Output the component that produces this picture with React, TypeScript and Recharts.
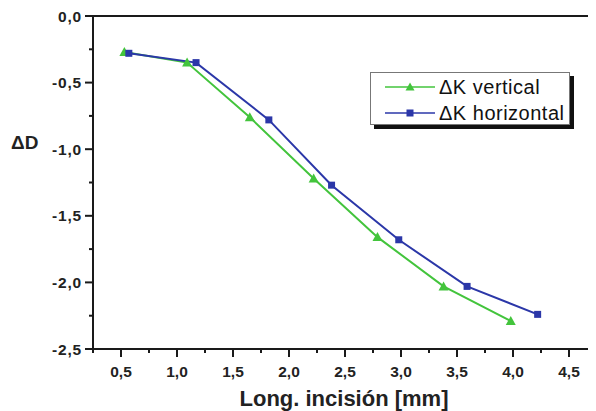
import { LineChart, Line, XAxis, YAxis, Legend } from 'recharts'

const vertX = [0.53, 1.09, 1.65, 2.22, 2.79, 3.38, 3.98]
const vertY = [-0.27, -0.35, -0.76, -1.22, -1.66, -2.03, -2.29]
const horX = [0.57, 1.17, 1.82, 2.38, 2.98, 3.59, 4.22]
const horY = [-0.28, -0.35, -0.78, -1.27, -1.68, -2.03, -2.24]

const xTicks = [0.25, 0.5, 0.75, 1, 1.25, 1.5, 1.75, 2, 2.25, 2.5, 2.75, 3, 3.25, 3.5, 3.75, 4, 4.25, 4.5, 4.75]
const yTicks = [0, -0.25, -0.5, -0.75, -1, -1.25, -1.5, -1.75, -2, -2.25, -2.5]

const vertData = vertX.map((x, i) => ({ x, y: vertY[i] }))
const horData = horX.map((x, i) => ({ x, y: horY[i] }))

const GREEN = '#43c43c'
const BLUE = '#2b37a8'
const AXIS = '#1a1a1a'
const FONT = '"Liberation Sans", Arial, sans-serif'

const isMajor = (v: number) => Math.abs(v * 2 - Math.round(v * 2)) < 1e-6
const fmt = (v: number) => v.toFixed(1).replace('.', ',')

function BottomTick({ x, y, payload }: any) {
  const major = isMajor(payload.value)
  return (
    <g>
      <line x1={x} x2={x} y1={y} y2={y + (major ? 8 : 4)} stroke={AXIS} strokeWidth={2} />
      {major && (
        <text x={x} y={y + 28} textAnchor="middle" fontFamily={FONT} fontWeight="bold" fontSize={15.5} fill="#222">
          {fmt(payload.value)}
        </text>
      )}
    </g>
  )
}

function LeftTick({ x, y, payload }: any) {
  const major = isMajor(payload.value)
  return (
    <g>
      <line x1={x - (major ? 8 : 4)} x2={x} y1={y} y2={y} stroke={AXIS} strokeWidth={2} />
      {major && (
        <text x={x - 11} y={y + 5.5} textAnchor="end" fontFamily={FONT} fontWeight="bold" fontSize={15.5} fill="#222" letterSpacing={0.8}>
          {fmt(payload.value)}
        </text>
      )}
    </g>
  )
}

function TopTick({ x, y, payload }: any) {
  const major = isMajor(payload.value)
  return <line x1={x} x2={x} y1={y} y2={y + (major ? 8 : 4)} stroke={AXIS} strokeWidth={2} />
}

function RightTick({ x, y, payload }: any) {
  const major = isMajor(payload.value)
  return <line x1={x - (major ? 8 : 4)} x2={x} y1={y} y2={y} stroke={AXIS} strokeWidth={2} />
}

function Triangle({ cx, cy }: any) {
  if (cx == null || cy == null) return null
  return <path d={`M${cx},${cy - 5} L${cx + 5},${cy + 4} L${cx - 5},${cy + 4} Z`} fill={GREEN} />
}

function Square({ cx, cy }: any) {
  if (cx == null || cy == null) return null
  return <rect x={cx - 3.5} y={cy - 3.5} width={7} height={7} fill={BLUE} />
}

function LegendBox() {
  const rows = [
    { name: 'ΔK vertical', color: GREEN, marker: 'tri' },
    { name: 'ΔK horizontal', color: BLUE, marker: 'sq' },
  ]
  return (
    <div
      style={{
        width: 198,
        height: 51,
        border: '1.5px solid #777',
        background: '#fff',
        boxShadow: '4px 4px 0 #111',
        position: 'relative',
      }}
    >
      {rows.map((r, i) => (
        <div key={r.name} style={{ position: 'absolute', left: 13, top: 3 + i * 26, height: 22, display: 'flex', alignItems: 'center' }}>
          <svg width={52} height={14}>
            <line x1={1} x2={51} y1={7} y2={7} stroke={r.color} strokeWidth={1.5} />
            {r.marker === 'tri' ? (
              <path d="M26,2.5 L30.5,10.5 L21.5,10.5 Z" fill={r.color} />
            ) : (
              <rect x={22.5} y={3.5} width={7} height={7} fill={r.color} />
            )}
          </svg>
          <span style={{ fontFamily: FONT, fontSize: 20, letterSpacing: 0.5, color: '#111', marginLeft: 3, lineHeight: '22px', whiteSpace: 'nowrap' }}>
            {r.name}
          </span>
        </div>
      ))}
    </div>
  )
}

export default function App() {
  return (
    <div style={{ margin: '-8px -8px 0 -8px', width: 596, height: 411, overflow: 'hidden', background: '#fff' }}>
      <LineChart width={618} height={411} margin={{ top: 14, right: 0, bottom: 1, left: 0 }}>
        <XAxis
          dataKey="x"
          type="number"
          domain={[0.25, 4.75]}
          ticks={xTicks}
          interval={0}
          height={61}
          tickSize={0}
          tickMargin={0}
          tickLine={false}
          tick={<BottomTick />}
          axisLine={{ stroke: AXIS, strokeWidth: 2 }}
          allowDataOverflow
          label={{
            content: ({ viewBox }: any) => (
              <text
                x={viewBox.x + viewBox.width / 2 - 1}
                y={viewBox.y + 57}
                textAnchor="middle"
                fontFamily={FONT}
                fontWeight="bold"
                fontSize={22}
                fill="#222"
              >
                Long. incisión [mm]
              </text>
            ),
          }}
        />
        <XAxis
          xAxisId="top"
          orientation="top"
          type="number"
          domain={[0.25, 4.75]}
          ticks={xTicks}
          interval={0}
          height={2}
          tickSize={0}
          tickMargin={0}
          tickLine={false}
          tick={<TopTick />}
          axisLine={{ stroke: AXIS, strokeWidth: 2 }}
          allowDataOverflow
        />
        <YAxis
          dataKey="y"
          type="number"
          domain={[-2.5, 0]}
          ticks={yTicks}
          interval={0}
          width={93}
          tickSize={0}
          tickMargin={0}
          tickLine={false}
          tick={<LeftTick />}
          axisLine={{ stroke: AXIS, strokeWidth: 2 }}
          allowDataOverflow
          label={{
            content: ({ viewBox }: any) => (
              <text x={viewBox.x + 11} y={viewBox.y + 133} fontFamily={FONT} fontWeight="bold" fontSize={19} fill="#222">
                ΔD
              </text>
            ),
          }}
        />
        <YAxis
          yAxisId="right"
          orientation="right"
          type="number"
          domain={[-2.5, 0]}
          ticks={yTicks}
          interval={0}
          width={21}
          tickSize={0}
          tickMargin={0}
          tickLine={false}
          tick={<RightTick />}
          axisLine={{ stroke: AXIS, strokeWidth: 2 }}
          allowDataOverflow
        />
        <Legend
          layout="vertical"
          align="center"
          verticalAlign="middle"
          wrapperStyle={{ left: 370, top: 72, width: 205 }}
          content={() => <LegendBox />}
        />
        <Line
          data={vertData}
          dataKey="y"
          name="ΔK vertical"
          stroke={GREEN}
          strokeWidth={2}
          dot={<Triangle />}
          activeDot={false}
          isAnimationActive={false}
        />
        <Line
          data={horData}
          dataKey="y"
          name="ΔK horizontal"
          stroke={BLUE}
          strokeWidth={2}
          dot={<Square />}
          activeDot={false}
          isAnimationActive={false}
        />
      </LineChart>
    </div>
  )
}
